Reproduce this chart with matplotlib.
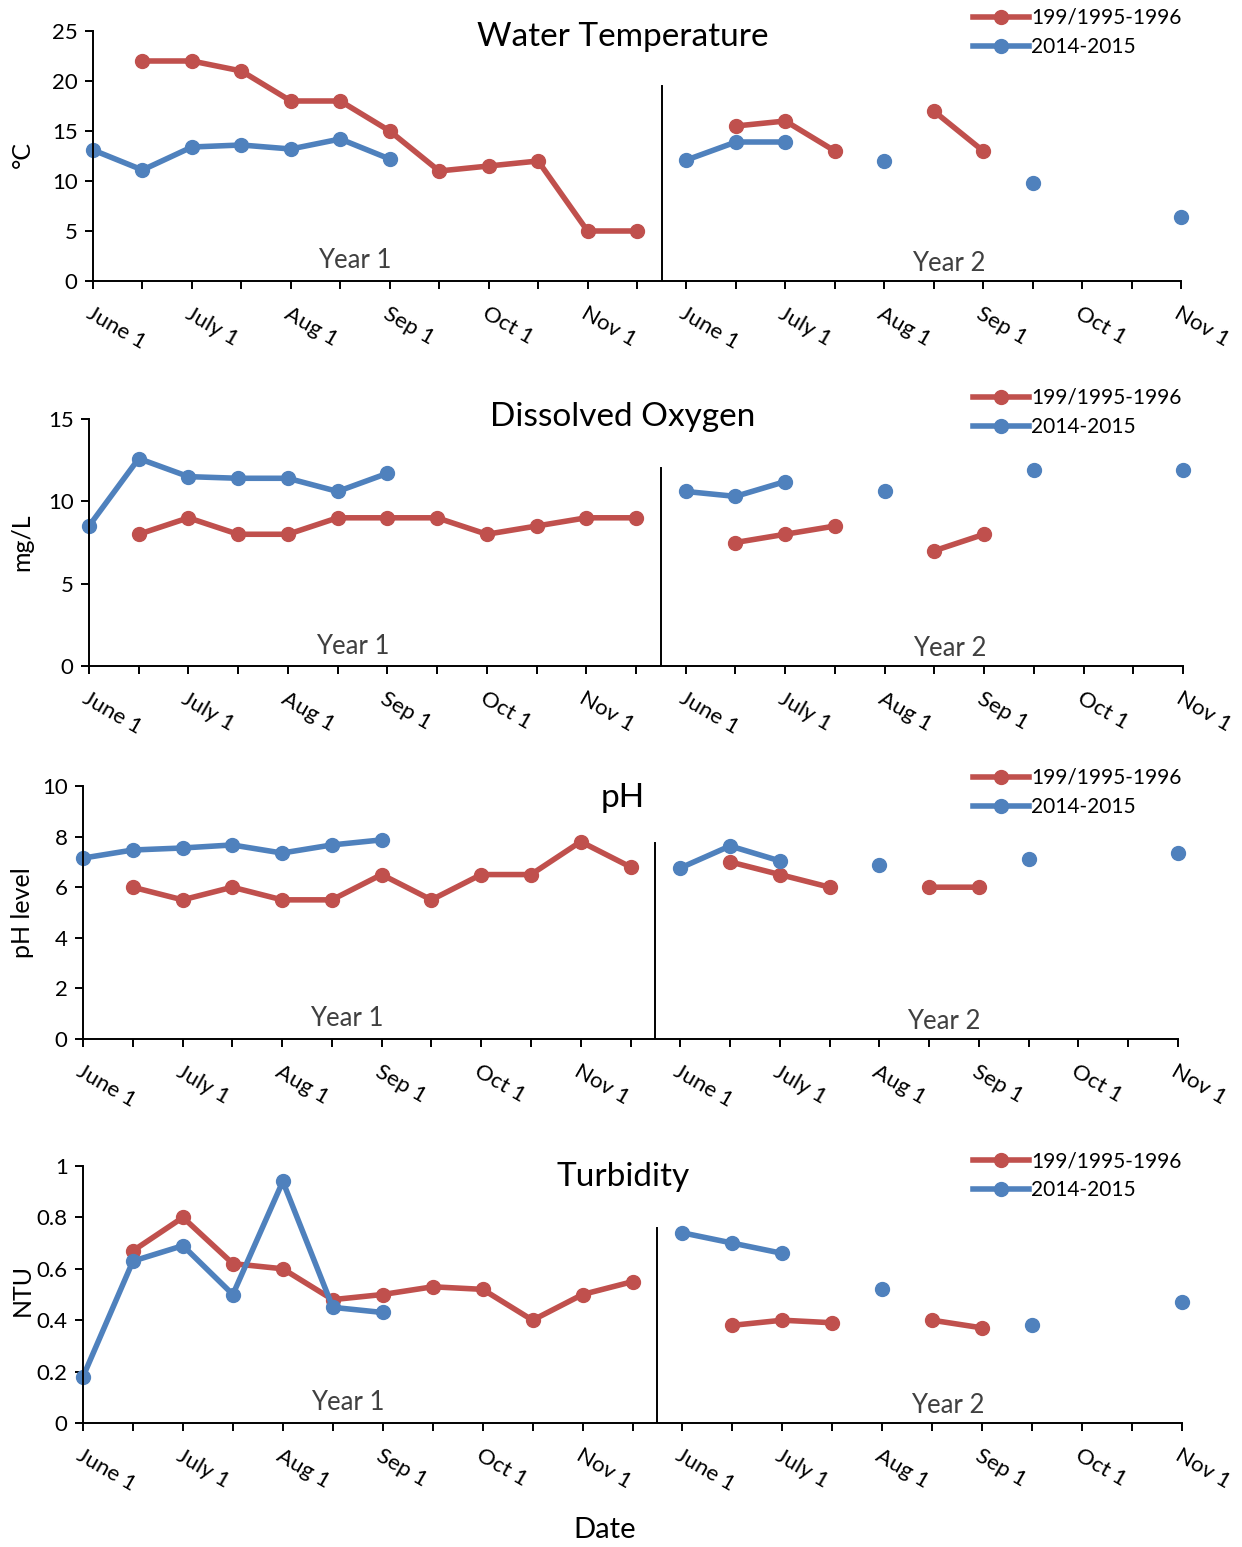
import numpy as np
import matplotlib.pyplot as plt
from matplotlib.ticker import FuncFormatter

plt.rcParams['font.family'] = ['Lato', 'DejaVu Sans']

nan = np.nan

# category axis: two field seasons, June 1 .. Nov 1 with mid-month points
x_labels = ['June 1', '', 'July 1', '', 'Aug 1', '', 'Sep 1', '', 'Oct 1', '', 'Nov 1', '',
            'June 1', '', 'July 1', '', 'Aug 1', '', 'Sep 1', '', 'Oct 1', '', 'Nov 1']

series_names = ['199/1995-1996', '2014-2015']

temp_old = [nan, 22, 22, 21, 18, 18, 15, 11, 11.5, 12, 5, 5,
            nan, 15.5, 16, 13, nan, 17, 13, nan, nan, nan, nan]
temp_new = [13.1, 11.1, 13.4, 13.6, 13.2, 14.2, 12.2, nan, nan, nan, nan, nan,
            12.1, 13.9, 13.9, nan, 12.0, nan, nan, 9.8, nan, nan, 6.4]

do_old = [nan, 8, 9, 8, 8, 9, 9, 9, 8, 8.5, 9, 9,
          nan, 7.5, 8, 8.5, nan, 7, 8, nan, nan, nan, nan]
do_new = [8.5, 12.6, 11.5, 11.4, 11.4, 10.6, 11.7, nan, nan, nan, nan, nan,
          10.6, 10.3, 11.2, nan, 10.6, nan, nan, 11.9, nan, nan, 11.9]

ph_old = [nan, 6.0, 5.5, 6.0, 5.5, 5.5, 6.5, 5.5, 6.5, 6.5, 7.8, 6.8,
          nan, 7.0, 6.5, 6.0, nan, 6.0, 6.0, nan, nan, nan, nan]
ph_new = [7.15, 7.47, 7.55, 7.67, 7.35, 7.67, 7.87, nan, nan, nan, nan, nan,
          6.76, 7.63, 7.04, nan, 6.88, nan, nan, 7.11, nan, nan, 7.35]

turb_old = [nan, 0.67, 0.80, 0.62, 0.60, 0.48, 0.50, 0.53, 0.52, 0.40, 0.50, 0.55,
            nan, 0.38, 0.40, 0.39, nan, 0.40, 0.37, nan, nan, nan, nan]
turb_new = [0.18, 0.63, 0.69, 0.50, 0.94, 0.45, 0.43, nan, nan, nan, nan, nan,
            0.74, 0.70, 0.66, nan, 0.52, nan, nan, 0.38, nan, nan, 0.47]

red = '#C0504D'
blue = '#4F81BD'
W, H = 1242, 1547

fig = plt.figure(figsize=(W / 100, H / 100), dpi=100)

# axes box in pixels (left, right, top, bottom) plus text positions
panels = [
    dict(box=(93, 1181, 31, 281), title='Water Temperature', ty=37, ylabel='°C', ly=155,
         old=temp_old, new=temp_new, yt=[0, 5, 10, 15, 20, 25], div=0.78, leg=8),
    dict(box=(89, 1183, 419, 666), title='Dissolved Oxygen', ty=417, ylabel='mg/L', ly=542,
         old=do_old, new=do_new, yt=[0, 5, 10, 15], div=0.80, leg=388),
    dict(box=(83, 1178, 786, 1039), title='pH', ty=798, ylabel='pH level', ly=913,
         old=ph_old, new=ph_new, yt=[0, 2, 4, 6, 8, 10], div=0.775, leg=768),
    dict(box=(83, 1182, 1166, 1423), title='Turbidity', ty=1177, ylabel='NTU', ly=1290,
         old=turb_old, new=turb_new, yt=[0, 0.2, 0.4, 0.6, 0.8, 1.0], div=0.76, leg=1151),
]

x = np.arange(len(x_labels))

for p in panels:
    l, r, t, b = p['box']
    ax = fig.add_axes([l / W, 1 - b / H, (r - l) / W, (b - t) / H])
    ax.plot(x, p['old'], color=red, lw=4, marker='o', ms=10, label=series_names[0],
            clip_on=False)
    ax.plot(x, p['new'], color=blue, lw=4, marker='o', ms=10, label=series_names[1],
            clip_on=False)
    ax.set_xlim(0, len(x_labels) - 1)
    ax.set_ylim(p['yt'][0], p['yt'][-1])
    ax.set_yticks(p['yt'])
    ax.yaxis.set_major_formatter(FuncFormatter(lambda v, pos: '%g' % v))
    ax.set_xticks(x)
    ax.set_xticklabels(x_labels, rotation=-30, ha='left', va='top', rotation_mode='anchor')
    for s in ['top', 'right']:
        ax.spines[s].set_visible(False)
    for s in ['left', 'bottom']:
        ax.spines[s].set_linewidth(1.4)
    ax.tick_params(axis='both', direction='out', length=6, width=1.4, labelsize=16, pad=5)
    ax.tick_params(axis='x', pad=10)
    ax.axvline(11.5, ymin=0, ymax=p['div'], color='black', lw=1.4)
    ax.text(5.3, 0.08, 'Year 1', transform=ax.get_xaxis_transform(), ha='center',
            va='center', fontsize=18.5, color='#404040')
    ax.text(17.3, 0.07, 'Year 2', transform=ax.get_xaxis_transform(), ha='center',
            va='center', fontsize=18.5, color='#404040')
    fig.text(623 / W, 1 - p['ty'] / H, p['title'], ha='center', va='center', fontsize=24)
    fig.text(22 / W, 1 - p['ly'] / H, p['ylabel'], ha='center', va='center',
             rotation=90, fontsize=18)
    fig.legend(*ax.get_legend_handles_labels(), loc='upper left',
               bbox_to_anchor=(973 / W, 1 - p['leg'] / H), frameon=False,
               fontsize=15, handlelength=2.7, handletextpad=0.1, labelspacing=0.45,
               borderpad=0, borderaxespad=0)

fig.text(605 / W, 1 - 1530 / H, 'Date', ha='center', va='center', fontsize=21)

fig.savefig('out.png', dpi=100)
